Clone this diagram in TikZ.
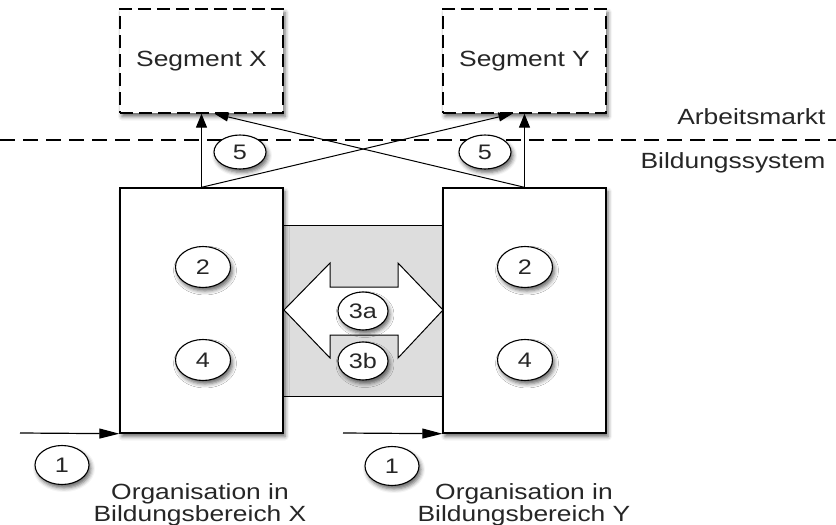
\documentclass[tikz,border=0pt]{standalone}
\usepackage{fontspec}
\setmainfont{Liberation Sans}
\usetikzlibrary{arrows.meta,shapes.geometric,shadows.blur}
\newcommand\sx[1]{\scalebox{1.2}[1]{#1}}
\begin{document}
\begin{tikzpicture}[x=1pt,y=-1pt,
  shad/.style={blur shadow={shadow xshift=2pt,shadow yshift=-3.5pt,shadow blur radius=4pt,shadow opacity=60}},
  txt/.style={font=\fontsize{22}{22}\selectfont, text=black!85},
  segbox/.style={draw, line width=1.4pt, dash pattern=on 13pt off 6pt, fill=white,
    minimum width=163pt, minimum height=104pt, inner sep=0pt, shad, txt},
  orgbox/.style={draw, line width=1.4pt, fill=white,
    minimum width=163pt, minimum height=245pt, inner sep=0pt, shad},
  num/.style={ellipse, draw, line width=1.1pt, fill=white, minimum width=55pt,
    minimum height=41pt, inner sep=0pt, font=\fontsize{21}{21}\selectfont, text=black!85, shad},
  arr/.style={line width=1.2pt, -{Triangle[length=14pt,width=11pt]}},
  harr/.style={line width=1.2pt, -{Triangle[length=20pt,width=10pt]}},
  xarr/.style={line width=1pt, -{Triangle[length=14pt,width=9pt]}},
]
\useasboundingbox (0,0) rectangle (836,525);

% separator line
\coordinate (dl) at (0,140);
\coordinate (dr) at (836,140);
\draw[line width=1.3pt, dash pattern=on 15pt off 8pt] (dl) -- (dr);
\node[txt, anchor=base east] (am) at (829,124) {\sx{Arbeitsmarkt}};
\node[txt, anchor=base east] (bs) at (829,168) {\sx{Bildungssystem}};

% segments
\node[segbox] (segx) at (201.5,61) {\sx{Segment X}};
\node[segbox] (segy) at (524.5,61) {\sx{Segment Y}};

% grey exchange area
\draw[fill=gray!27, line width=1pt] (283,225) rectangle (443,396);

% organisation boxes
\node[orgbox] (lbox) at (201.5,310.5) {};
\node[orgbox] (rbox) at (524.5,310.5) {};

% double arrow
\draw[fill=white, line width=1pt, line join=miter]
  (284,310) -- (330,263) -- (330,287) -- (398,287) -- (398,263) -- (443,310)
  -- (398,358) -- (398,335) -- (330,335) -- (330,358) -- cycle;

% connectors to labour market
\draw[arr] (lbox.north) -- (segx.south);
\draw[arr] (rbox.north) -- (segy.south);
\draw[xarr] (lbox.north) -- ([xshift=-12pt]segy.south);
\draw[xarr] (rbox.north) -- ([xshift=13pt]segx.south);

% inputs
\coordinate (inl) at (20,433);
\coordinate (inr) at (343,433);
\draw[harr] (inl) -- (lbox.south west);
\draw[harr] (inr) -- (rbox.south west);

% numbered markers
\node[num, minimum height=34pt, minimum width=52pt] (n5l) at (240,152) {\sx{5}};
\node[num, minimum height=34pt, minimum width=52pt] (n5r) at (485,152) {\sx{5}};
\node[num] (n2l) at (203,267) {\sx{2}};
\node[num] (n4l) at (203,360) {\sx{4}};
\node[num] (n2r) at (525,267) {\sx{2}};
\node[num] (n4r) at (525,360) {\sx{4}};
\node[num, minimum width=50pt, minimum height=38pt] (n3a) at (363,311) {\sx{3a}};
\node[num, minimum width=50pt, minimum height=38pt] (n3b) at (363,361) {\sx{3b}};
\node[num, minimum width=54pt, minimum height=39pt] (n1l) at (62,465) {\sx{1}};
\node[num, minimum width=54pt, minimum height=39pt] (n1r) at (392,466) {\sx{1}};

% captions
\node[txt, align=center] (capx) at (200,505) {\sx{Organisation in}\\\sx{Bildungsbereich X}};
\node[txt, align=center] (capy) at (524,505) {\sx{Organisation in}\\\sx{Bildungsbereich Y}};
\end{tikzpicture}
\end{document}
